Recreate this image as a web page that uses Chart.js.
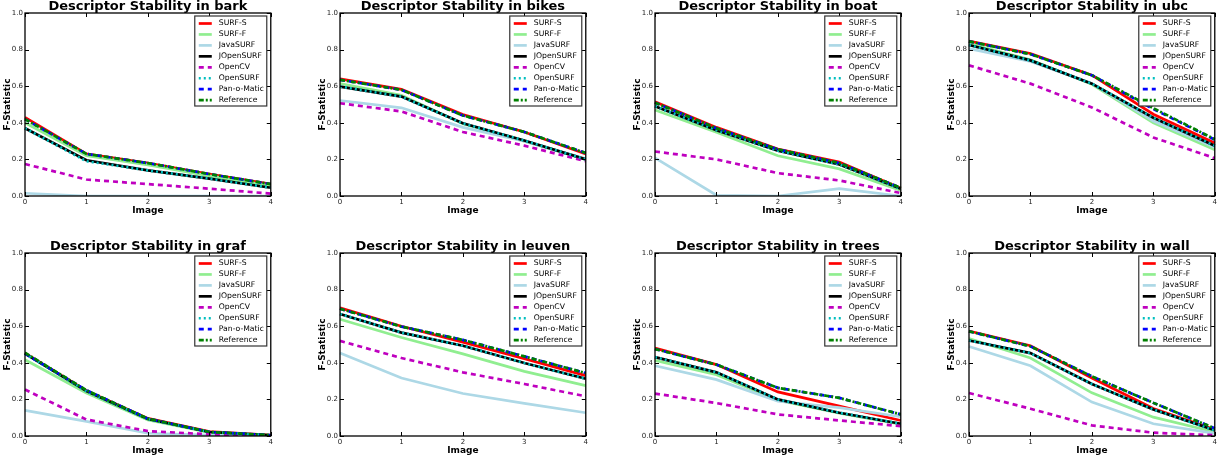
<!DOCTYPE html>
<html>
<head>
<meta charset="utf-8">
<script src="https://cdn.jsdelivr.net/npm/chart.js@4.4.1/dist/chart.umd.min.js"></script>
<style>
  html, body { margin: 0; padding: 0; background: #fff; overflow: hidden; }
  canvas { position: absolute; }
</style>
</head>
<body>
<script>
// images along the x axis
const images = ['0', '1', '2', '3', '4'];

// series names, in plotting order
const seriesNames = ['SURF-S', 'SURF-F', 'JavaSURF', 'JOpenSURF', 'OpenCV', 'OpenSURF', 'Pan-o-Matic', 'Reference'];

// F-statistic per scene, one row per series (same order as seriesNames)
const bark = [
  [0.43, 0.23, 0.18, 0.12, 0.065],
  [0.40, 0.22, 0.17, 0.11, 0.055],
  [0.015, 0.0, 0.0, 0.0, 0.0],
  [0.37, 0.195, 0.14, 0.095, 0.045],
  [0.175, 0.09, 0.065, 0.04, 0.013],
  [0.37, 0.19, 0.14, 0.095, 0.045],
  [0.42, 0.23, 0.18, 0.12, 0.065],
  [0.42, 0.23, 0.18, 0.12, 0.065]
];
const bikes = [
  [0.64, 0.583, 0.445, 0.35, 0.23],
  [0.615, 0.55, 0.395, 0.30, 0.20],
  [0.522, 0.482, 0.375, 0.30, 0.203],
  [0.598, 0.543, 0.397, 0.303, 0.20],
  [0.507, 0.462, 0.35, 0.275, 0.19],
  [0.598, 0.543, 0.397, 0.303, 0.20],
  [0.635, 0.58, 0.44, 0.35, 0.235],
  [0.635, 0.58, 0.44, 0.35, 0.235]
];
const boat = [
  [0.515, 0.375, 0.257, 0.185, 0.043],
  [0.47, 0.348, 0.22, 0.148, 0.03],
  [0.208, 0.004, 0.0, 0.04, 0.0],
  [0.49, 0.36, 0.248, 0.172, 0.04],
  [0.243, 0.2, 0.125, 0.085, 0.016],
  [0.49, 0.36, 0.248, 0.172, 0.04],
  [0.51, 0.37, 0.255, 0.18, 0.045],
  [0.51, 0.37, 0.255, 0.18, 0.045]
];
const ubc = [
  [0.846, 0.779, 0.66, 0.447, 0.29],
  [0.833, 0.745, 0.61, 0.40, 0.253],
  [0.805, 0.735, 0.615, 0.41, 0.266],
  [0.825, 0.741, 0.614, 0.428, 0.275],
  [0.714, 0.614, 0.484, 0.32, 0.207],
  [0.825, 0.741, 0.614, 0.428, 0.275],
  [0.845, 0.775, 0.66, 0.475, 0.308],
  [0.845, 0.775, 0.66, 0.48, 0.31]
];
const graf = [
  [0.453, 0.248, 0.096, 0.024, 0.005],
  [0.417, 0.235, 0.087, 0.02, 0.004],
  [0.14, 0.08, 0.015, 0.005, 0.0],
  [0.45, 0.245, 0.093, 0.022, 0.004],
  [0.254, 0.09, 0.027, 0.009, 0.002],
  [0.45, 0.245, 0.093, 0.022, 0.004],
  [0.45, 0.25, 0.095, 0.022, 0.004],
  [0.455, 0.25, 0.095, 0.022, 0.004]
];
const leuven = [
  [0.70, 0.60, 0.513, 0.422, 0.33],
  [0.638, 0.538, 0.449, 0.353, 0.275],
  [0.453, 0.317, 0.232, 0.178, 0.127],
  [0.667, 0.565, 0.493, 0.399, 0.313],
  [0.52, 0.426, 0.348, 0.284, 0.217],
  [0.667, 0.565, 0.493, 0.399, 0.313],
  [0.695, 0.598, 0.525, 0.435, 0.344],
  [0.695, 0.598, 0.525, 0.435, 0.344]
];
const trees = [
  [0.48, 0.39, 0.241, 0.163, 0.085],
  [0.413, 0.335, 0.196, 0.125, 0.065],
  [0.384, 0.308, 0.19, 0.155, 0.105],
  [0.431, 0.348, 0.2, 0.127, 0.067],
  [0.232, 0.18, 0.118, 0.085, 0.054],
  [0.431, 0.348, 0.2, 0.127, 0.067],
  [0.475, 0.39, 0.263, 0.208, 0.118],
  [0.475, 0.39, 0.263, 0.208, 0.118]
];
const wall = [
  [0.574, 0.493, 0.317, 0.15, 0.036],
  [0.533, 0.426, 0.236, 0.103, 0.022],
  [0.489, 0.384, 0.185, 0.067, 0.014],
  [0.522, 0.453, 0.284, 0.145, 0.031],
  [0.235, 0.149, 0.058, 0.018, 0.004],
  [0.522, 0.453, 0.284, 0.145, 0.031],
  [0.572, 0.49, 0.326, 0.181, 0.042],
  [0.572, 0.49, 0.326, 0.181, 0.042]
];

// y tick values
const yTicks = [0.0, 0.2, 0.4, 0.6, 0.8, 1.0];

const scenes = [
  ['bark', bark], ['bikes', bikes], ['boat', boat], ['ubc', ubc],
  ['graf', graf], ['leuven', leuven], ['trees', trees], ['wall', wall]
];

// line styles, matplotlib-ish
const styles = [
  { color: '#ff0000', dash: [] },
  { color: '#90ee90', dash: [] },
  { color: '#add8e6', dash: [] },
  { color: '#000000', dash: [] },
  { color: '#bf00bf', dash: [5, 4] },
  { color: '#00bfbf', dash: [2, 3] },
  { color: '#0000ff', dash: [5, 4] },
  { color: '#008000', dash: [5, 2, 2, 2] }
];

Chart.defaults.font.family = '"DejaVu Sans", sans-serif';
Chart.defaults.color = '#222';

// plot-area left edges of the four columns
const plotLefts = [25, 340, 655, 969];

// frame round the plot area, with inward tick marks
const framePlugin = {
  id: 'frame',
  afterDatasetsDraw(chart) {
    const { ctx, chartArea: a, scales: { x, y } } = chart;
    ctx.save();
    ctx.strokeStyle = '#000';
    ctx.lineWidth = 1;
    ctx.setLineDash([]);
    ctx.beginPath();
    y.ticks.forEach((t, i) => {
      const p = Math.round(y.getPixelForTick(i)) + 0.5;
      ctx.moveTo(a.left, p); ctx.lineTo(a.left + 4, p);
      ctx.moveTo(a.right, p); ctx.lineTo(a.right - 4, p);
    });
    x.ticks.forEach((t, i) => {
      const p = Math.round(x.getPixelForTick(i)) + 0.5;
      ctx.moveTo(p, a.bottom); ctx.lineTo(p, a.bottom - 4);
      ctx.moveTo(p, a.top); ctx.lineTo(p, a.top + 4);
    });
    ctx.stroke();
    ctx.lineWidth = 1.3;
    ctx.strokeRect(a.left, a.top, a.right - a.left, a.bottom - a.top);
    ctx.restore();
  }
};

// legend boxed in the upper right corner of the plot
const boxLegendPlugin = {
  id: 'boxLegend',
  afterDraw(chart) {
    const { ctx, chartArea: a } = chart;
    const w = 72, h = 90;
    const bx = a.right - 4 - w, by = a.top + 3;
    ctx.save();
    ctx.fillStyle = '#fff';
    ctx.fillRect(bx, by, w, h);
    ctx.strokeStyle = '#333';
    ctx.lineWidth = 1.2;
    ctx.strokeRect(bx, by, w, h);
    ctx.font = '7.7px "DejaVu Sans", sans-serif';
    ctx.textBaseline = 'middle';
    chart.data.datasets.forEach((ds, i) => {
      const yy = by + 7.5 + i * 10.95;
      ctx.strokeStyle = ds.borderColor;
      ctx.lineWidth = ds.borderWidth;
      ctx.setLineDash(ds.borderDash);
      ctx.beginPath();
      ctx.moveTo(bx + 4, yy);
      ctx.lineTo(bx + 17, yy);
      ctx.stroke();
      ctx.fillStyle = '#000';
      ctx.fillText(ds.label, bx + 24, yy);
    });
    ctx.restore();
  }
};

scenes.forEach(([name, rows], k) => {
  const col = k % 4, row = Math.floor(k / 4);
  const canvas = document.createElement('canvas');
  canvas.width = 275;
  canvas.height = 230;
  canvas.style.left = (plotLefts[col] - 25) + 'px';
  canvas.style.top = (row * 240) + 'px';
  document.body.appendChild(canvas);

  const datasets = seriesNames.map((label, i) => ({
    label: label,
    data: rows[i],
    borderColor: styles[i].color,
    borderDash: styles[i].dash,
    borderWidth: 2.7,
    pointRadius: 0,
    tension: 0,
    fill: false,
    order: seriesNames.length - i   // later series on top, like matplotlib
  }));

  new Chart(canvas, {
    type: 'line',
    data: { labels: images, datasets: datasets },
    options: {
      responsive: false,
      animation: false,
      layout: { padding: { top: 0, right: 4, bottom: 0, left: 0 } },
      plugins: {
        legend: { display: false },
        tooltip: { enabled: false },
        title: {
          display: true,
          text: 'Descriptor Stability in ' + name,
          fullSize: false,
          color: '#000',
          font: { size: 13, weight: 'bold', lineHeight: 1 },
          padding: 0
        }
      },
      scales: {
        x: {
          type: 'category',
          offset: false,
          grid: { display: false, drawTicks: false },
          border: { display: false },
          ticks: { font: { size: 7 }, padding: 2, maxRotation: 0 },
          title: {
            display: true, text: 'Image', color: '#000',
            font: { size: 9, weight: 'bold', lineHeight: 1 },
            padding: { top: 0, bottom: 15 }
          },
          afterFit(scale) { scale.height = 34; }
        },
        y: {
          min: 0, max: 1,
          grid: { display: false, drawTicks: false },
          border: { display: false },
          afterBuildTicks(scale) { scale.ticks = yTicks.map(v => ({ value: v })); },
          ticks: { font: { size: 7 }, padding: 2, callback: v => v.toFixed(1) },
          title: {
            display: true, text: 'F-Statistic', color: '#000',
            font: { size: 9, weight: 'bold', lineHeight: 1 },
            padding: { top: 3, bottom: 0 }
          },
          afterFit(scale) { scale.width = 25; }
        }
      }
    },
    plugins: [framePlugin, boxLegendPlugin]
  });
});
</script>
</body>
</html>
